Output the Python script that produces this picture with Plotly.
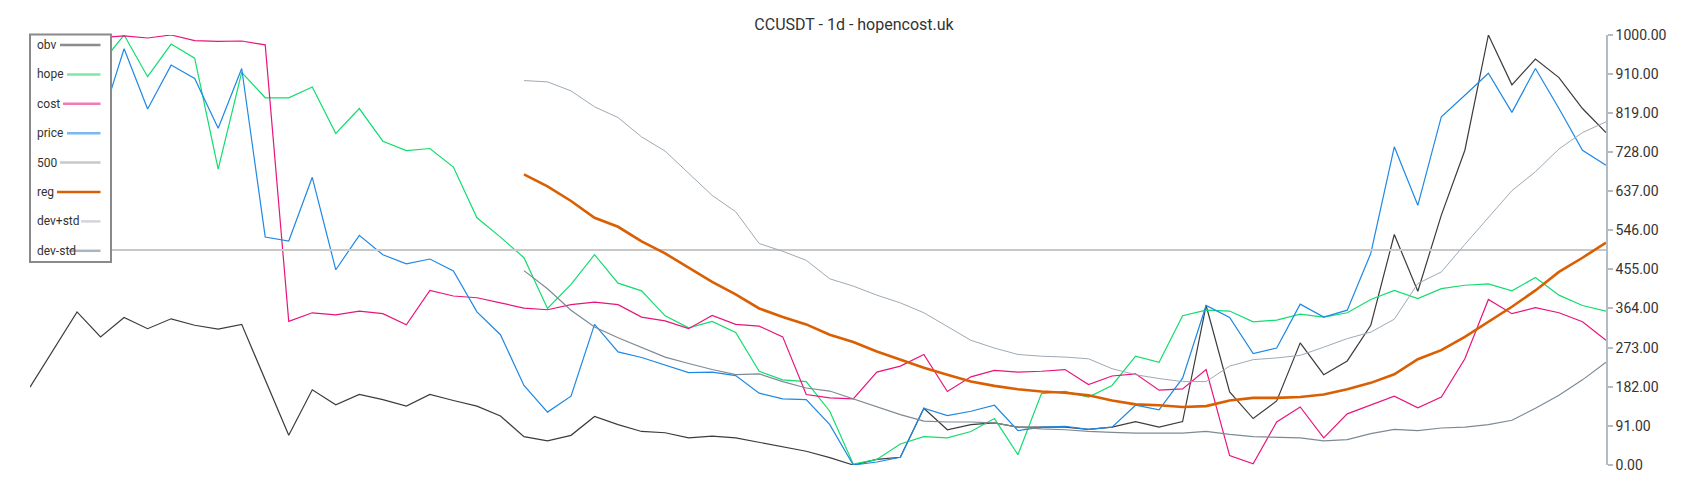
import plotly.graph_objects as go

# values (scale 0..1000), one per day
obv = [181, 269, 356, 298, 343, 317, 340, 325, 316, 327, 198, 69, 175, 140,
       164, 152, 137, 164, 150, 137, 114, 66, 56, 69, 113, 94, 78,
       75, 63, 67, 63, 53, 42, 32, 17, 0, 13, 18, 132, 82,
       94, 98, 88, 88, 88, 83, 88, 101, 88, 101, 371, 170, 108,
       149, 284, 210, 242, 325, 536, 404, 581, 732, 1000, 884, 944, 901, 829, 773]
hope = [955, 985, 905, 932, 1000, 903, 979, 946, 688, 913, 854, 854, 879, 771,
        829, 753, 731, 736, 693, 575, 530, 482, 364, 420, 489, 423, 405,
        347, 319, 334, 308, 218, 198, 194, 125, 2, 13, 49, 66, 63,
        78, 108, 24, 166, 171, 158, 185, 253, 239, 347, 360, 358, 333,
        337, 351, 344, 354, 385, 406, 387, 410, 418, 421, 405, 436, 395, 371, 358]
cost = [990, 996, 998, 994, 998, 993, 1000, 987, 985, 986, 977, 334, 354, 349,
        358, 352, 326, 406, 393, 389, 377, 365, 361, 373, 379, 373, 344,
        335, 317, 348, 327, 323, 298, 164, 156, 154, 216, 230, 257, 171,
        205, 220, 216, 218, 222, 187, 207, 212, 174, 177, 222, 22, 3,
        100, 135, 63, 119, 139, 160, 133, 158, 247, 385, 352, 366, 354, 333, 290]
price = [725, 880, 810, 794, 968, 828, 930, 899, 783, 922, 530, 521, 669, 454,
         534, 489, 468, 479, 451, 356, 303, 185, 123, 160, 327, 263, 250,
         232, 215, 216, 208, 167, 154, 152, 94, 0, 7, 18, 132, 115,
         125, 139, 80, 88, 90, 83, 88, 139, 128, 202, 371, 343, 259,
         272, 374, 344, 360, 492, 740, 604, 810, 860, 911, 820, 922, 829, 732, 697]
level_500 = [500] * 68
reg = [None] * 21 + [
    676, 648, 614, 575, 554, 520,
    492, 458, 426, 397, 364, 344, 327, 303, 286, 264, 245, 226, 210,
    194, 184, 176, 171, 168, 162, 150, 141, 139, 135, 137, 150, 156,
    156, 158, 164, 176, 191, 211, 246, 267, 298, 333, 368, 406, 449, 482, 517]
dev_plus = [None] * 21 + [
    894, 891, 870, 833, 808, 763,
    730, 678, 627, 589, 515, 497, 476, 433, 416, 395, 377, 354, 323,
    290, 272, 257, 253, 251, 247, 224, 210, 201, 194, 194, 230, 245,
    249, 255, 274, 294, 309, 339, 422, 449, 513, 575, 638, 682, 735, 773, 798]
dev_minus = [None] * 21 + [
    452, 410, 360, 321, 296, 274,
    251, 236, 222, 210, 212, 194, 179, 172, 154, 135, 117, 102, 100,
    100, 98, 88, 84, 82, 78, 76, 74, 74, 74, 78, 71, 66,
    65, 63, 56, 59, 73, 83, 80, 86, 88, 94, 104, 132, 162, 198, 239]

days = list(range(len(obv)))
tick_vals = [0, 91, 182, 273, 364, 455, 546, 637, 728, 819, 910, 1000]

series = [
    ("obv", obv, "#3c3c3c", 1.2, "#8c8c8c"),
    ("hope", hope, "#12dd6e", 1.2, "#7de8a8"),
    ("cost", cost, "#e8157c", 1.2, "#f07ab5"),
    ("price", price, "#1e88e5", 1.2, "#7ab8ef"),
    ("500", level_500, "#c8c8c8", 2, "#c8c8c8"),
    ("reg", reg, "#d95f02", 2.6, "#d95f02"),
    ("dev+std", dev_plus, "#9eaab5", 1, "#d2d6da"),
    ("dev-std", dev_minus, "#7d8a96", 1.2, "#a9b5bf"),
]

fig = go.Figure()
for name, vals, color, width, _ in series:
    fig.add_trace(go.Scatter(x=days, y=vals, name=name, mode="lines",
                             line=dict(color=color, width=width),
                             connectgaps=False, hoverinfo="skip"))

# the page body has an 8px margin, so the figure is shrunk and shifted by it
OFF = 8
W, H = 1700 - OFF, 500 - OFF
L, R, T, B = 30 - OFF, 94, 35 - OFF, 35


def px(x):
    return (x - OFF - L) / (W - L - R)


def py(y):
    return (H + OFF - B - y) / (H - T - B)


# legend drawn by hand: label left, swatch right, inside a framed white box
swatch_start = [60, 67, 63, 67, 60, 57, 81, 69]
shapes = [dict(type="rect", xref="paper", yref="paper",
               x0=px(30), x1=px(111), y0=py(262), y1=py(34.5),
               line=dict(color="#8a8a8a", width=2), fillcolor="white", layer="above")]
annotations = []
for k, (name, _, _, _, lcolor) in enumerate(series):
    yc = 45 + k * 29.4
    shapes.append(dict(type="line", xref="paper", yref="paper",
                       x0=px(swatch_start[k]), x1=px(100.5), y0=py(yc), y1=py(yc),
                       line=dict(color=lcolor, width=2.5), layer="above"))
    annotations.append(dict(text=name, xref="paper", yref="paper", x=px(35), y=py(yc),
                            xanchor="left", yanchor="middle", showarrow=False,
                            font=dict(family="Roboto", size=12, color="#333333")))

fig.update_layout(
    width=W, height=H,
    margin=dict(l=L, r=R, t=T, b=B),
    paper_bgcolor="white", plot_bgcolor="white",
    showlegend=False,
    title=dict(text="CCUSDT - 1d - hopencost.uk", x=0.5, xanchor="center",
               y=1 - (24 - OFF) / H, yanchor="middle",
               font=dict(family="Roboto", size=16, color="#333333")),
    xaxis=dict(range=[0, len(days) - 1], visible=False),
    yaxis=dict(side="right", range=[0, 1000], tickvals=tick_vals,
               ticktext=["%.2f" % v for v in tick_vals],
               showgrid=False, zeroline=False, showline=True,
               linecolor="#b3bcc5", linewidth=1.5, ticks="outside", ticklen=5,
               tickcolor="#b3bcc5", tickwidth=1.5,
               tickfont=dict(family="Roboto", size=14, color="#333333")),
    shapes=shapes, annotations=annotations,
)

fig.write_html("out.html")
